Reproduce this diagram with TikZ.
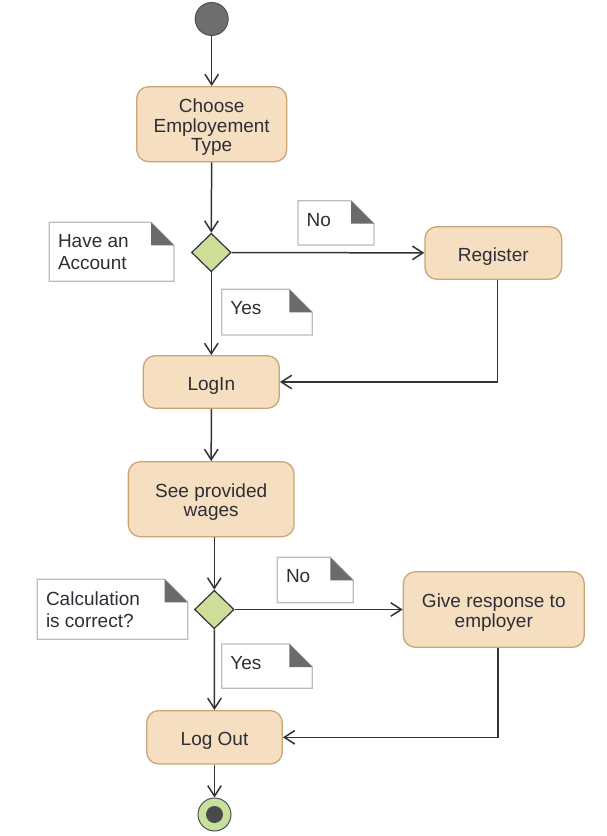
\documentclass[tikz,border=0pt]{standalone}
\usepackage{fontspec}
\setmainfont{Liberation Sans}
\usetikzlibrary{arrows.meta,shapes.geometric}
\definecolor{boxfill}{HTML}{F6DFC1}
\definecolor{boxbd}{HTML}{CBA577}
\definecolor{decfill}{HTML}{CCDE98}
\definecolor{linec}{HTML}{333333}
\definecolor{txtc}{HTML}{2E2E36}
\definecolor{notebdc}{HTML}{BDBDBD}
\definecolor{foldc}{HTML}{6B6B6B}
\definecolor{startc}{HTML}{6E6E6E}
\definecolor{startbd}{HTML}{505050}
\definecolor{endfill}{HTML}{C7E09C}
\definecolor{endin}{HTML}{4A4A4A}
\newcommand\boxline[1]{\rule[-1.75pt]{0pt}{19.5pt}\smash{#1}}
\newcommand\mynote[6]{%
  \draw[notebd] (#2,#3) -- (#2+#4-23,#3) -- (#2+#4,#3+23) -- (#2+#4,#3+#5) -- (#2,#3+#5) -- cycle;
  \fill[notefold] (#2+#4-23,#3) -- (#2+#4-23,#3+23) -- (#2+#4,#3+23) -- cycle;
  \node[notetxt, anchor=north west] (#1) at (#2+8.5,#3+12.4) {#6};
}
\begin{document}
\begin{tikzpicture}[x=1pt,y=-1pt,
  act/.style={draw=boxbd, fill=boxfill, line width=1.3pt, rounded corners=12pt, align=center, text=txtc, font=\fontsize{19}{19.5}\selectfont, inner sep=0pt},
  dec/.style={draw=linec, fill=decfill, line width=1.2pt, diamond, minimum width=39.5pt, minimum height=38.5pt, inner sep=0pt},
  flow/.style={draw=linec, line width=1.5pt, -{Straight Barb[length=10.5pt,width=13.5pt]}},
  notebd/.style={draw=notebdc, fill=white, line width=1.2pt},
  notefold/.style={fill=foldc},
  notetxt/.style={text=txtc, font=\fontsize{19}{22}\selectfont, align=left, inner sep=0pt}]
\useasboundingbox[fill=white] (0,0) rectangle (606,836);

\node[circle, draw=startbd, fill=startc, line width=1pt, minimum size=33pt, inner sep=0pt] (start) at (211.7,19) {};
\node[act, minimum width=150pt, minimum height=75pt] (choose) at (211.7,124.2) {\boxline{Choose}\\\boxline{Employement}\\\boxline{Type}};
\node[dec] (d1) at (211.3,252.5) {};
\node[act, minimum width=136.7pt, minimum height=52.6pt] (reg) at (493.3,253) {\boxline{Register}};
\node[act, minimum width=136pt, minimum height=52.6pt] (login) at (211.3,382) {\boxline{LogIn}};
\node[act, minimum width=165.7pt, minimum height=75pt] (see) at (211.2,499.2) {\boxline{See provided}\\\boxline{wages}};
\node[dec] (d2) at (214.3,609.5) {};
\node[act, minimum width=181pt, minimum height=75.6pt] (give) at (493.8,609.5) {\boxline{Give response to}\\\boxline{employer}};
\node[act, minimum width=135.6pt, minimum height=53.3pt] (logout) at (214.5,737.3) {\boxline{Log Out}};
\node[circle, draw=startbd, fill=endfill, line width=1pt, minimum size=33pt, inner sep=0pt] (end) at (214.5,814.5) {};
\fill[endin] (end.center) circle (8.5pt);

\mynote{n1}{49.3}{222.3}{124.7}{59}{Have an\\Account}
\mynote{n2}{298}{200.7}{76}{44.3}{No}
\mynote{n3}{221.7}{289.3}{90.6}{45.7}{Yes}
\mynote{n4}{37.3}{579.3}{150.4}{60}{Calculation\\is correct?}
\mynote{n5}{277.3}{557.3}{76}{45.4}{No}
\mynote{n6}{221.7}{644}{90.6}{44.3}{Yes}

\draw[flow] (start) -- (choose);
\draw[flow] (choose) -- (d1);
\draw[flow] (d1) -- (reg);
\draw[flow] (d1) -- (login);
\draw[flow] ([xshift=4pt]reg.south) |- (login.east);
\draw[flow] (login) -- (see);
\draw[flow] (see.south -| d2) -- (d2);
\draw[flow] (d2) -- (give);
\draw[flow] (d2) -- (logout);
\draw[flow] ([xshift=4pt]give.south) |- (logout.east);
\draw[flow] (logout) -- (end);
\end{tikzpicture}
\end{document}
